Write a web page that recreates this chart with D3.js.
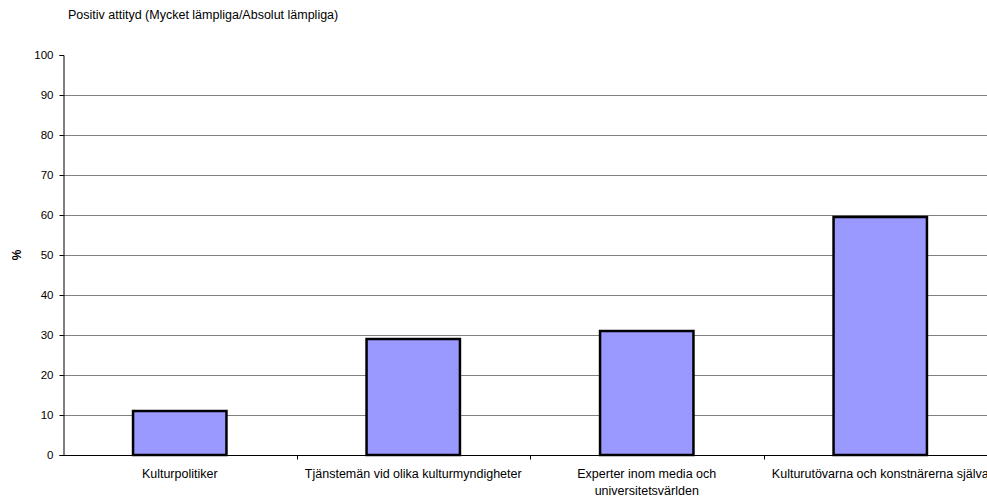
<!DOCTYPE html>
<html>
<head>
<meta charset="utf-8" />
<script src="https://d3js.org/d3.v7.min.js"></script>
<style>
body { margin: 0; background-color: #ffffff; }
svg { font-family: "Liberation Sans", Arial, sans-serif; }
</style>
</head>
<body>
<svg id="chart"></svg>
<script>
var categories = [
    "Kulturpolitiker",
    "Tjänstemän vid olika kulturmyndigheter",
    "Experter inom media och\nuniversitetsvärlden",
    "Kulturutövarna och konstnärerna själva"
];
var values = [11, 29, 31, 59.5];
var yTicks = [0, 10, 20, 30, 40, 50, 60, 70, 80, 90, 100];
var title = "Positiv attityd (Mycket lämpliga/Absolut lämpliga)";

var width = 987, height = 497;
var margin = { top: 55, left: 63, bottom: 42, right: -10 };

var svg = d3.select("#chart")
    .attr("width", width)
    .attr("height", height);

var x = d3.scaleBand()
    .domain(categories)
    .range([margin.left, width - margin.right])
    .paddingInner(0)
    .paddingOuter(0);

var y = d3.scaleLinear()
    .domain([0, 100])
    .range([height - margin.bottom, margin.top]);

// gridlines
svg.append("g")
    .selectAll("line")
    .data(yTicks.filter(function(d) { return d > 0 && d < 100; }))
    .enter().append("line")
    .attr("x1", margin.left)
    .attr("x2", width)
    .attr("y1", function(d) { return Math.round(y(d)) + 0.5; })
    .attr("y2", function(d) { return Math.round(y(d)) + 0.5; })
    .attr("stroke", "#808080")
    .attr("stroke-width", 1);

// bars
var barW = x.bandwidth() * 0.4;
svg.append("g")
    .selectAll("rect")
    .data(categories)
    .enter().append("rect")
    .attr("x", function(d) { return x(d) + (x.bandwidth() - barW) / 2; })
    .attr("width", barW)
    .attr("y", function(d, i) { return y(values[i]); })
    .attr("height", function(d, i) { return y(0) - y(values[i]); })
    .attr("fill", "#9999ff")
    .attr("stroke", "#000000")
    .attr("stroke-width", 2.5);

// y axis
var yAxis = d3.axisLeft(y).tickValues(yTicks).tickSize(4).tickPadding(6);
var gy = svg.append("g")
    .attr("transform", "translate(" + (margin.left + 0.5) + ",0)")
    .call(yAxis);
gy.select(".domain").attr("stroke", "#000");
gy.selectAll("text").attr("font-size", "11.5px").attr("fill", "#000");

// x axis
var gx = svg.append("g")
    .attr("transform", "translate(0," + (Math.round(y(0)) + 0.5) + ")");
gx.append("line")
    .attr("x1", margin.left).attr("x2", width)
    .attr("stroke", "#000");
gx.selectAll(".tk")
    .data(categories.slice(1))
    .enter().append("line")
    .attr("class", "tk")
    .attr("x1", function(d) { return Math.round(x(d)) + 0.5; })
    .attr("x2", function(d) { return Math.round(x(d)) + 0.5; })
    .attr("y1", 0).attr("y2", 4)
    .attr("stroke", "#000");
gx.selectAll(".lbl")
    .data(categories)
    .enter().append("text")
    .attr("class", "lbl")
    .attr("text-anchor", "middle")
    .attr("font-size", "12.5px")
    .attr("fill", "#000")
    .each(function(d) {
        var t = d3.select(this);
        d.split("\n").forEach(function(line, j) {
            t.append("tspan")
                .attr("x", x(d) + x.bandwidth() / 2)
                .attr("y", 22 + j * 17)
                .text(line);
        });
    });

// y label
svg.append("text")
    .attr("transform", "translate(21," + y(50) + ") rotate(-90)")
    .attr("text-anchor", "middle")
    .attr("font-size", "12px")
    .attr("font-weight", "bold")
    .text("%");

// title
svg.append("text")
    .attr("x", 68)
    .attr("y", 19)
    .attr("font-size", "12.5px")
    .text(title);
</script>
</body>
</html>
